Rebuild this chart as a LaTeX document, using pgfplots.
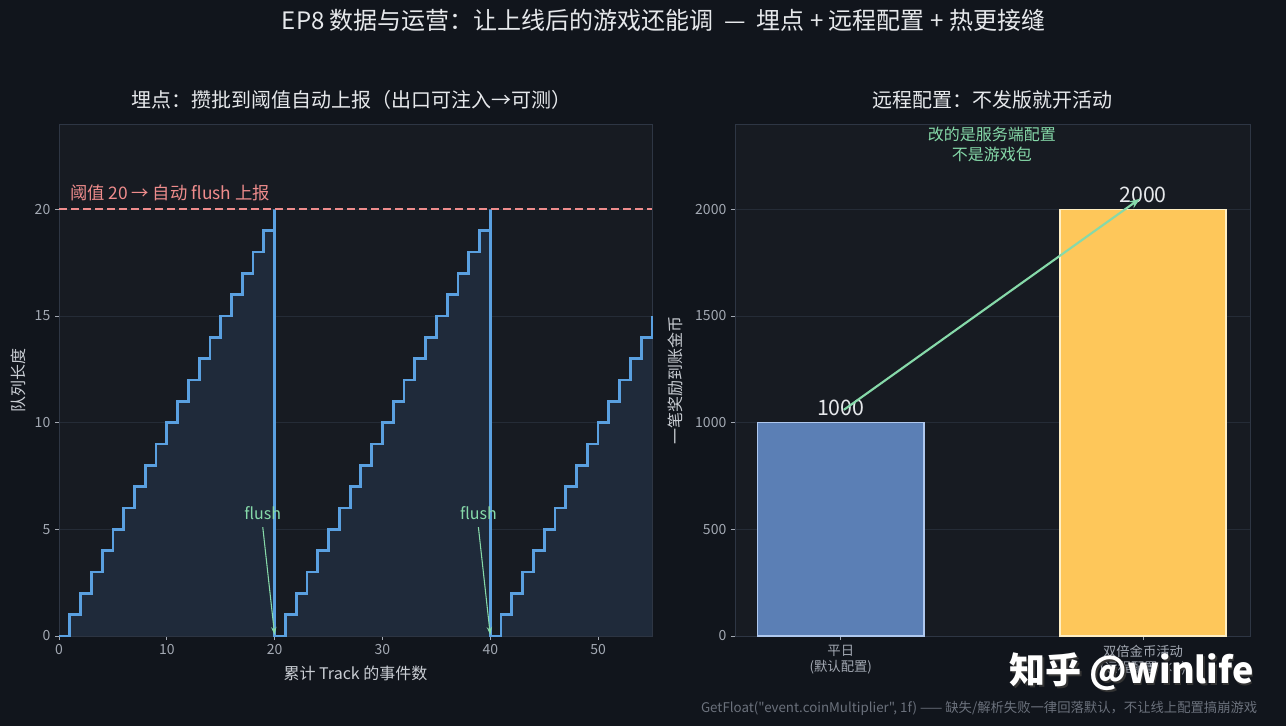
\documentclass[border=0pt]{standalone}
\usepackage{pgfplots}
\pgfplotsset{compat=1.18}
\usepackage{pgfplotstable}
\usepackage{fontspec}
\setmainfont{Noto Sans CJK SC}[Ligatures=TeXOff]
\usetikzlibrary{arrows.meta}
\definecolor{figbg}{HTML}{11151C}
\definecolor{axbg}{HTML}{171B22}
\definecolor{gridc}{HTML}{252C37}
\definecolor{framec}{HTML}{2E3644}
\definecolor{tickc}{HTML}{A3A9B3}
\definecolor{labc}{HTML}{C9CDD3}
\definecolor{titc}{HTML}{E6E8EB}
\definecolor{stepc}{HTML}{5AA0E0}
\definecolor{fillc}{HTML}{1F2A3A}
\definecolor{redc}{HTML}{EE8C8C}
\definecolor{greenc}{HTML}{86D9A9}
\definecolor{barblue}{HTML}{5B7FB5}
\definecolor{barblueedge}{HTML}{AFC8EE}
\definecolor{baryel}{HTML}{FEC75A}
\definecolor{baryeledge}{HTML}{FFEFC4}
\definecolor{footc}{HTML}{6B717C}

\pgfplotstableread{
x y
0 0
1 1
2 2
3 3
4 4
5 5
6 6
7 7
8 8
9 9
10 10
11 11
12 12
13 13
14 14
15 15
16 16
17 17
18 18
19 19
20 20
20 0
21 1
22 2
23 3
24 4
25 5
26 6
27 7
28 8
29 9
30 10
31 11
32 12
33 13
34 14
35 15
36 16
37 17
38 18
39 19
40 20
40 0
41 1
42 2
43 3
44 4
45 5
46 6
47 7
48 8
49 9
50 10
51 11
52 12
53 13
54 14
55 15
}\queuedata

\pgfplotstableread{
x y
0 1000
}\bardaily
\pgfplotstableread{
x y
1 2000
}\barevent

\begin{document}
\begin{tikzpicture}
\fill[figbg] (0pt,0pt) rectangle (964.5pt,544.5pt);
\path[use as bounding box] (0pt,0pt) rectangle (964.5pt,544.5pt);

\pgfplotsset{
  myaxis/.style={
    scale only axis,
    anchor=south west,
    axis background/.style={fill=axbg},
    axis line style={framec, line width=0.6pt},
    tick style={tickc, line width=0.6pt},
    tick align=outside,
    tick pos=left,
    major tick length=3pt,
    ymajorgrids,
    grid style={gridc, line width=0.6pt},
    tick label style={font=\fontsize{10.5}{12}\selectfont, text=tickc},
    /pgf/number format/assume math mode=true,
    /pgf/number format/1000 sep={},
    scaled ticks=false,
    label style={font=\fontsize{12}{14}\selectfont, text=labc},
    clip=false,
  }
}

% Left axis
\begin{axis}[myaxis,
  at={(44.25pt,67.5pt)}, width=444.75pt, height=384pt,
  xmin=0, xmax=55, ymin=0, ymax=24,
  xtick={0,10,20,30,40,50}, ytick={0,5,10,15,20},
  xlabel={累计 Track 的事件数},
  xlabel style={at={(axis description cs:0.5,0)}, anchor=center, yshift=-27.75pt},
  ylabel={队列长度},
  ylabel style={at={(axis description cs:0,0.5)}, anchor=center, rotate=0, yshift=30.75pt},
]
\addplot[const plot, fill=fillc, draw=none] table[x=x,y=y] {\queuedata} \closedcycle;
\addplot[const plot, draw=stepc, line width=2.1pt, line join=miter] table[x=x,y=y] {\queuedata};
\addplot[redc, line width=1.5pt, dash pattern=on 6pt off 3pt] coordinates {(0,20) (55,20)};
\node[anchor=south west, text=redc, font=\fontsize{13}{15}\selectfont, inner sep=0pt] at (axis cs:1,20.4) {阈值 20 → 自动 flush 上报};
\node[text=greenc, font=\fontsize{12}{14}\selectfont, inner sep=1pt] at (axis cs:18.9,5.75) {flush};
\draw[greenc, line width=0.8pt, -{Stealth[length=6pt,width=4pt]}] (axis cs:18.9,5.1) -- (axis cs:20,0.05);
\node[text=greenc, font=\fontsize{12}{14}\selectfont, inner sep=1pt] at (axis cs:38.9,5.75) {flush};
\draw[greenc, line width=0.8pt, -{Stealth[length=6pt,width=4pt]}] (axis cs:38.9,5.1) -- (axis cs:40,0.05);
\end{axis}

% Right axis
\begin{axis}[myaxis,
  at={(551.25pt,67.5pt)}, width=386.25pt, height=384pt,
  xmin=-0.35, xmax=1.354, ymin=0, ymax=2400,
  xtick={0,1}, ytick={0,500,1000,1500,2000},
  xticklabels={{平日\\(默认配置)},{双倍金币活动\\(远程配置 ×2)}},
  xticklabel style={align=center, font=\fontsize{10}{12.5}\selectfont},
  ylabel={一笔奖励到账金币},
  ylabel style={at={(axis description cs:0,0.5)}, anchor=center, yshift=45pt},
]
\addplot[ybar, bar width=0.55, bar shift=0pt, fill=barblue, draw=barblueedge, line width=1.1pt] table[x=x,y=y] {\bardaily};
\addplot[ybar, bar width=0.55, bar shift=0pt, fill=baryel, draw=baryeledge, line width=1.1pt] table[x=x,y=y] {\barevent};
\node[anchor=south, text=titc, font=\fontsize{16}{18}\selectfont, inner sep=0pt] at (axis cs:0,1030) {1000};
\node[anchor=south, text=titc, font=\fontsize{16}{18}\selectfont, inner sep=0pt] at (axis cs:1,2030) {2000};
\draw[greenc, line width=1.6pt, -{Stealth[length=8pt,width=6pt]}] (axis cs:0.01,1060) -- (axis cs:0.99,2050);
\node[text=greenc, align=center, font=\fontsize{12}{14.5}\selectfont] at (axis cs:0.5,2305) {改的是服务端配置\\不是游戏包};
\end{axis}

% Titles
\node[text=titc, font=\fontsize{18}{21}\selectfont] at (497.6pt,529.5pt) {EP8 数据与运营：让上线后的游戏还能调 \ — \ 埋点 + 远程配置 + 热更接缝};
\node[text=titc, font=\fontsize{15}{18}\selectfont] at (263.6pt,469.5pt) {埋点：攒批到阈值自动上报（出口可注入→可测）};
\node[text=titc, font=\fontsize{15}{18}\selectfont] at (744pt,469.5pt) {远程配置：不发版就开活动};

% Footer
\node[anchor=east, text=footc, font=\fontsize{10}{12}\selectfont] at (946.5pt,13.5pt) {GetFloat("event.coinMultiplier", 1f) —— 缺失/解析失败一律回落默认，不让线上配置搞崩游戏};

% Watermark
\node[anchor=west, text=black!80, font=\fontsize{27}{31}\selectfont\bfseries] at (754.75pt,39.5pt) {知乎 @winlife};
\node[anchor=west, text=white, font=\fontsize{27}{31}\selectfont\bfseries] at (753.75pt,40.5pt) {知乎 @winlife};
\end{tikzpicture}
\end{document}
